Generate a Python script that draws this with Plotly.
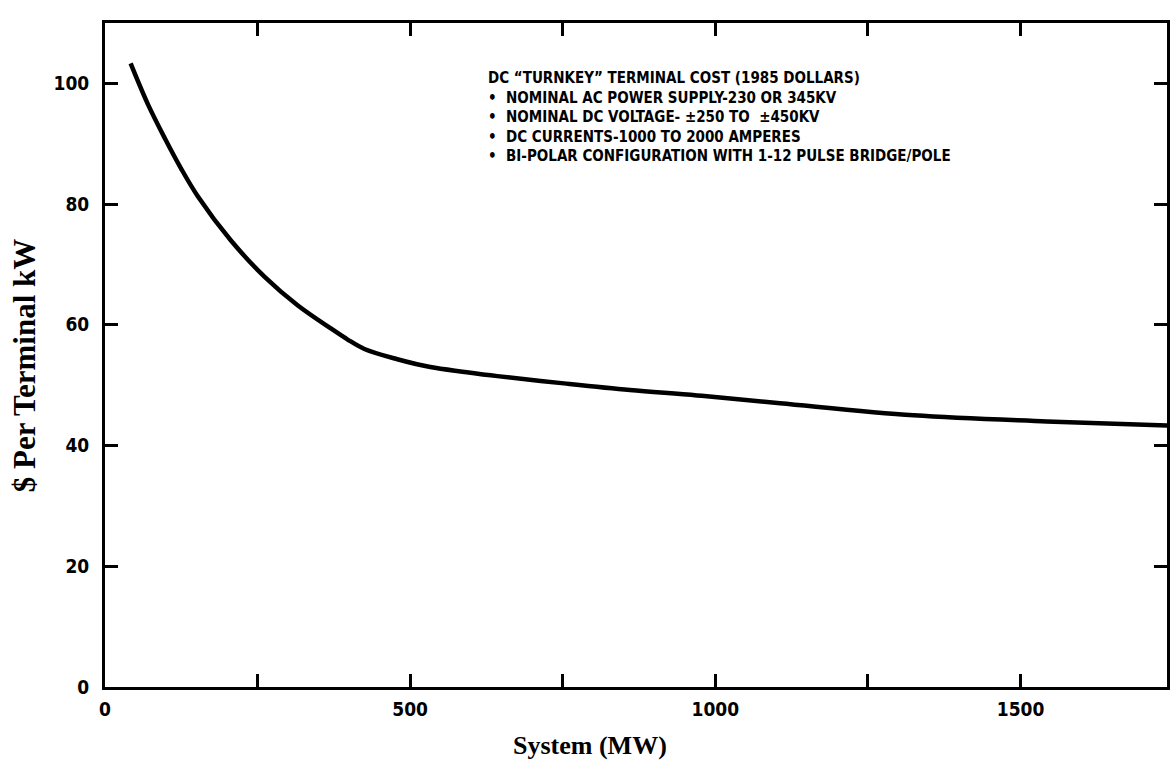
import plotly.graph_objects as go

# Data
system_mw = [42, 70, 98, 124, 152, 206, 262, 316, 370, 397, 425, 479, 533, 589,
             643, 752, 860, 970, 1106, 1325, 1543, 1745]
cost_per_kw = [103.3, 96.6, 90.9, 86.0, 81.3, 74.0, 67.9, 63.2, 59.4, 57.6, 56.0,
               54.3, 53.0, 52.2, 51.5, 50.3, 49.2, 48.3, 47.0, 45.0, 44.0, 43.3]

x_tickvals = [0, 250, 500, 750, 1000, 1250, 1500]
x_ticktext = ["0", "", "500", "", "1000", "", "1500"]
y_tickvals = [0, 20, 40, 60, 80, 100]
y_ticktext = ["0", "20", "40", "60", "80", "100"]

note_lines = [
    "DC \u201cTURNKEY\u201d TERMINAL COST (1985 DOLLARS)",
    "\u2022  NOMINAL AC POWER SUPPLY-230 OR 345KV",
    "\u2022  NOMINAL DC VOLTAGE- \u00b1250 TO  \u00b1450KV",
    "\u2022  DC CURRENTS-1000 TO 2000 AMPERES",
    "\u2022  BI-POLAR CONFIGURATION WITH 1-12 PULSE BRIDGE/POLE",
]

narrow = "DejaVu Sans Condensed, Liberation Sans Narrow, Arial Narrow, sans-serif"
serif = "Liberation Serif, Times New Roman, serif"

fig = go.Figure()
fig.add_trace(go.Scatter(
    x=system_mw, y=cost_per_kw, mode="lines",
    line=dict(color="black", width=4.5, shape="spline", smoothing=1.0),
    showlegend=False,
))

fig.update_layout(
    width=1174, height=763,
    margin=dict(l=105, r=4, t=23, b=76),
    paper_bgcolor="white", plot_bgcolor="white",
    xaxis=dict(
        range=[0, 1740], tickvals=x_tickvals, ticktext=x_ticktext,
        ticks="inside", ticklen=13, tickwidth=2.5, tickcolor="black",
        showline=True, linewidth=3, linecolor="black", mirror="ticks",
        showgrid=False, zeroline=False,
        tickfont=dict(family=narrow, size=19, color="black", weight="bold"),
        ticklabelstandoff=3,
    ),
    yaxis=dict(
        range=[0, 110], tickvals=y_tickvals, ticktext=y_ticktext,
        ticks="inside", ticklen=13, tickwidth=2.5, tickcolor="black",
        showline=True, linewidth=3, linecolor="black", mirror="ticks",
        showgrid=False, zeroline=False,
        tickfont=dict(family=narrow, size=19, color="black", weight="bold"),
        ticklabelstandoff=9,
    ),
    annotations=[
        dict(text="<br>".join(note_lines), xref="paper", yref="paper",
             x=0.3587, y=0.934, xanchor="left", yanchor="top", align="left",
             showarrow=False,
             font=dict(family=narrow, size=15, color="black", weight="bold")),
        dict(text="System (MW)", xref="paper", yref="paper",
             x=(591 - 105) / 1065, y=-(745 - 687) / 664,
             xanchor="center", yanchor="middle", showarrow=False,
             font=dict(family=serif, size=26, color="black", weight="bold")),
        dict(text="$ Per Terminal kW", xref="paper", yref="paper",
             x=-(105 - 24) / 1065, y=(687 - 366) / 664, textangle=-90,
             xanchor="center", yanchor="middle", showarrow=False,
             font=dict(family=serif, size=31, color="black", weight="bold")),
    ],
)

fig.write_html("out.html")
